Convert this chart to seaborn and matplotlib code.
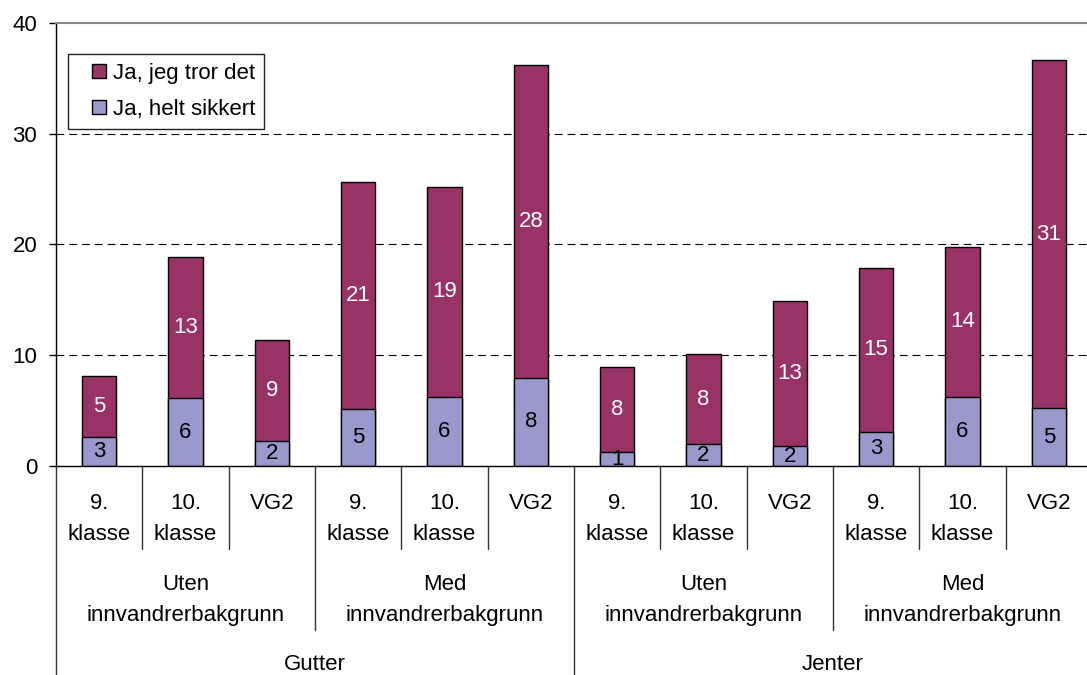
import pandas as pd
import matplotlib
matplotlib.use('Agg')
import matplotlib.pyplot as plt
import matplotlib.patches as mpatches
from matplotlib.legend_handler import HandlerPatch
import seaborn as sns

# ---- data ----
genders = ['Gutter', 'Jenter']
backgrounds = ['Uten\ninnvandrerbakgrunn', 'Med\ninnvandrerbakgrunn']
grades = ['9.\nklasse', '10.\nklasse', 'VG2']

helt_sikkert = [2.65, 6.1, 2.3, 5.1, 6.25, 7.95, 1.25, 1.95, 1.8, 3.1, 6.25, 5.2]
tror_det = [5.45, 12.8, 9.1, 20.55, 18.95, 28.25, 7.7, 8.15, 13.1, 14.8, 13.55, 31.45]

series_names = ['Ja, jeg tror det', 'Ja, helt sikkert']
MAROON = '#993366'
LAVENDER = '#9999CC'
FS = 16

sns.set_style('white')
plt.rcParams['font.family'] = ['Liberation Sans', 'DejaVu Sans']
plt.rcParams['text.color'] = 'black'
plt.rcParams['ytick.color'] = 'black'
plt.rcParams['xtick.color'] = 'black'
plt.rcParams['axes.labelcolor'] = 'black'

keys = [f'{g}|{b}|{k}' for g in genders for b in backgrounds for k in grades]
df = pd.DataFrame({'key': keys, 'helt': helt_sikkert, 'tror': tror_det})
df['total'] = df['helt'] + df['tror']

fig = plt.figure(figsize=(10.87, 6.75), dpi=100)
ax = fig.add_axes([56 / 1087, 209 / 675, 1036 / 1087, 443.3 / 675])
AX_H = 443.3  # axes height in pixels

# stacked bars: total first, bottom series drawn on top of it
sns.barplot(data=df, x='key', y='total', order=keys, color=MAROON, saturation=1,
            width=0.4, edgecolor='black', linewidth=1, errorbar=None, ax=ax)
sns.barplot(data=df, x='key', y='helt', order=keys, color=LAVENDER, saturation=1,
            width=0.4, edgecolor='black', linewidth=1, errorbar=None, ax=ax)

# value labels
for bar, lo, hi in zip(ax.containers[0], helt_sikkert, tror_det):
    ax.text(bar.get_x() + bar.get_width() / 2, lo + hi / 2, f'{hi:.0f}',
            ha='center', va='center', color='white', fontsize=FS)
ax.bar_label(ax.containers[1], fmt='%.0f', label_type='center', color='black', fontsize=FS)

# axes styling
ax.set_ylim(0, 40)
ax.set_xlim(-0.5, len(keys) - 0.5)
ax.set_yticks([0, 10, 20, 30, 40])
ax.set_axisbelow(True)
ax.yaxis.grid(True, color='black', linestyle=(0, (7, 4.5)), linewidth=0.8)
gl = ax.yaxis.get_gridlines()
gl[0].set_visible(False)
gl[-1].set_visible(False)
ax.tick_params(axis='y', left=True, length=5, width=1, color='black', pad=8.5,
               labelsize=FS, labelcolor='black', direction='out')
ax.tick_params(axis='x', bottom=False, labelbottom=False)
ax.set_xlabel('')
ax.set_ylabel('')
for s in ['left', 'bottom']:
    ax.spines[s].set_color('black')
    ax.spines[s].set_linewidth(1)
ax.spines['top'].set_color('#888888')
ax.spines['top'].set_linewidth(1.5)
ax.spines['right'].set_visible(False)

# hierarchical category axis
xt = ax.get_xaxis_transform()
for b in range(len(keys) + 1):
    if b % 6 == 0:
        depth = 209
    elif b % 3 == 0:
        depth = 164
    else:
        depth = 83.3
    ax.plot([b - 0.5, b - 0.5], [0, -depth / AX_H], transform=xt, color='#333333',
            lw=1, clip_on=False)


def put_lines(text, x, offsets):
    for line, off in zip(text.split('\n'), offsets):
        ax.annotate(line, xy=(x, 0), xycoords=xt, xytext=(0, -off),
                    textcoords='offset pixels', ha='center', va='baseline',
                    fontsize=FS, color='black', annotation_clip=False)


for i in range(len(keys)):
    put_lines(grades[i % 3], i, [43.3, 74])
for j in range(len(genders) * len(backgrounds)):
    put_lines(backgrounds[j % 2], j * 3 + 1, [124, 154.7])
for j, g in enumerate(genders):
    put_lines(g, j * 6 + 2.5, [204])


# legend with square markers
def square(legend, orig_handle, xdescent, ydescent, width, height, fontsize):
    return mpatches.Rectangle((-xdescent + width - height, -ydescent), height, height)


handles = [mpatches.Patch(facecolor=MAROON, edgecolor='black', linewidth=1),
           mpatches.Patch(facecolor=LAVENDER, edgecolor='black', linewidth=1)]
leg = ax.legend(handles, series_names, loc='upper left', bbox_to_anchor=(0.0113, 0.929),
                borderaxespad=0, frameon=True, fancybox=False, shadow=False,
                fontsize=FS, handlelength=1.32, handleheight=0.585, handletextpad=0.32,
                labelspacing=0.68, borderpad=0.4, labelcolor='black',
                handler_map={mpatches.Patch: HandlerPatch(patch_func=square)})
leg.get_frame().set_edgecolor('#222222')
leg.get_frame().set_linewidth(1)
leg.get_frame().set_alpha(1)

fig.savefig('out.png', dpi=100)
